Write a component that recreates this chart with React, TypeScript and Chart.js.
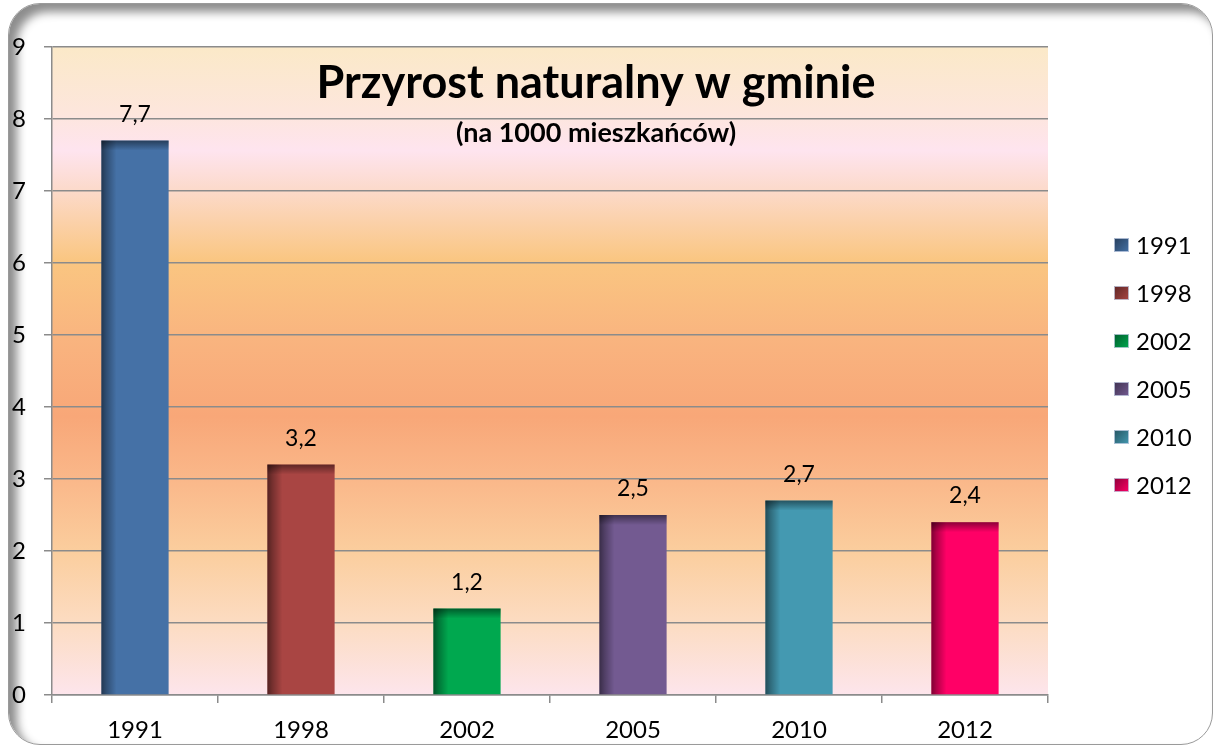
import React, { useEffect, useRef } from 'react';
import { Chart, registerables } from 'chart.js';

Chart.register(...registerables);

const categories = ['1991', '1998', '2002', '2005', '2010', '2012'];
const values = [7.7, 3.2, 1.2, 2.5, 2.7, 2.4];
const yTicks = [0, 1, 2, 3, 4, 5, 6, 7, 8, 9];
const titleText = 'Przyrost naturalny w gminie';
const subtitleText = '(na 1000 mieszkańców)';
const barColors = ['#4571A6', '#A94543', '#00A84F', '#735A91', '#4499B1', '#FF0066'];

const FONT = 'Lato, "Open Sans", sans-serif';
const GRID = '#8B8B8B';

const fmt = (v: number) => String(v).replace('.', ',');

const bgPlugin = {
  id: 'plotBg',
  beforeDraw(chart: any) {
    const { ctx, chartArea: a } = chart;
    const g = ctx.createLinearGradient(0, a.top, 0, a.bottom);
    const stops: [number, string][] = [
      [0, '#FBE9C8'],
      [0.1, '#FDE6DC'],
      [0.16, '#FEE4EF'],
      [0.22, '#FCDACB'],
      [0.33, '#FAC681'],
      [0.45, '#F9B47F'],
      [0.57, '#F8A778'],
      [0.67, '#FAB88A'],
      [0.78, '#FBCE9E'],
      [0.89, '#FCDCC2'],
      [1, '#FDE5EC'],
    ];
    stops.forEach(([o, c]) => g.addColorStop(o, c));
    ctx.save();
    ctx.fillStyle = g;
    ctx.fillRect(a.left, a.top, a.right - a.left, a.bottom - a.top);
    ctx.restore();
  },
};

const shadePlugin = {
  id: 'barShade',
  afterDatasetsDraw(chart: any) {
    const { ctx } = chart;
    ctx.save();
    chart.data.datasets.forEach((ds: any, di: number) => {
      const meta = chart.getDatasetMeta(di);
      meta.data.forEach((el: any, i: number) => {
        if (ds.data[i] == null) return;
        const left = el.x - el.width / 2;
        const top = el.y;
        const h = el.base - el.y;
        const gl = ctx.createLinearGradient(left, 0, left + 15, 0);
        gl.addColorStop(0, 'rgba(0,0,0,0.5)');
        gl.addColorStop(0.35, 'rgba(0,0,0,0.3)');
        gl.addColorStop(1, 'rgba(0,0,0,0)');
        ctx.fillStyle = gl;
        ctx.fillRect(left, top, 15, h);
        const gt = ctx.createLinearGradient(0, top, 0, top + 10);
        gt.addColorStop(0, 'rgba(0,0,0,0.45)');
        gt.addColorStop(1, 'rgba(0,0,0,0)');
        ctx.fillStyle = gt;
        ctx.fillRect(left, top, el.width, Math.min(10, h));
      });
    });
    ctx.restore();
  },
};

const labelPlugin = {
  id: 'valueLabels',
  afterDatasetsDraw(chart: any) {
    const { ctx } = chart;
    ctx.save();
    ctx.font = `23px ${FONT}`;
    ctx.fillStyle = '#000';
    ctx.textAlign = 'center';
    ctx.textBaseline = 'alphabetic';
    chart.data.datasets.forEach((ds: any, di: number) => {
      const meta = chart.getDatasetMeta(di);
      meta.data.forEach((el: any, i: number) => {
        const v = ds.data[i];
        if (v == null) return;
        ctx.fillText(fmt(v), el.x, el.y - 19);
      });
    });
    ctx.restore();
  },
};

const titlePlugin = {
  id: 'innerTitle',
  afterDraw(chart: any) {
    const { ctx } = chart;
    ctx.save();
    ctx.fillStyle = '#000';
    ctx.textAlign = 'center';
    ctx.textBaseline = 'alphabetic';
    ctx.font = `bold 45px ${FONT}`;
    ctx.fillText(titleText, 596, 98);
    ctx.font = `bold 27px ${FONT}`;
    ctx.fillText(subtitleText, 596, 142);
    ctx.restore();
  },
};

const legendPlugin = {
  id: 'sideLegend',
  afterDraw(chart: any) {
    const { ctx } = chart;
    ctx.save();
    chart.data.datasets.forEach((ds: any, i: number) => {
      const cy = 245 + i * 48;
      const bx = 1114;
      const by = cy - 7;
      ctx.fillStyle = ds.backgroundColor;
      ctx.fillRect(bx, by, 15, 14);
      const g = ctx.createLinearGradient(bx, by, bx + 15, by + 14);
      g.addColorStop(0, 'rgba(0,0,0,0.45)');
      g.addColorStop(1, 'rgba(0,0,0,0)');
      ctx.fillStyle = g;
      ctx.fillRect(bx, by, 15, 14);
      ctx.strokeStyle = 'rgba(200,210,230,0.8)';
      ctx.lineWidth = 1;
      ctx.strokeRect(bx + 0.5, by + 0.5, 14, 13);
      ctx.fillStyle = '#000';
      ctx.font = `24px ${FONT}`;
      ctx.textAlign = 'left';
      ctx.textBaseline = 'middle';
      ctx.fillText(ds.label, 1136, cy + 1);
    });
    ctx.restore();
  },
};

export default function App() {
  const ref = useRef<HTMLCanvasElement>(null);

  useEffect(() => {
    if (!ref.current) return;
    const datasets = categories.map((c, i) => ({
      label: c,
      data: categories.map((_, j) => (j === i ? values[i] : null)),
      backgroundColor: barColors[i],
      grouped: false,
      barPercentage: 0.405,
      categoryPercentage: 1,
    }));
    const chart = new Chart(ref.current, {
      type: 'bar',
      data: { labels: categories, datasets },
      options: {
        animation: false,
        responsive: false,
        maintainAspectRatio: false,
        layout: { padding: { left: 0, top: 47, right: 167, bottom: 0 } },
        plugins: {
          legend: { display: false },
          title: { display: false },
          tooltip: { enabled: false },
        },
        scales: {
          x: {
            afterFit: (s: any) => {
              s.height = 51;
            },
            ticks: { color: '#000', font: { family: FONT, size: 24 }, padding: 13 },
            grid: {
              offset: true,
              drawOnChartArea: false,
              drawTicks: true,
              tickLength: 8,
              color: GRID,
              lineWidth: 1.5,
            },
            border: { color: GRID, width: 1.5 },
          },
          y: {
            min: 0,
            max: 9,
            afterBuildTicks: (s: any) => {
              s.ticks = yTicks.map((v) => ({ value: v }));
            },
            afterFit: (s: any) => {
              s.width = 52;
            },
            ticks: { color: '#000', font: { family: FONT, size: 24 }, padding: 18 },
            grid: { color: GRID, lineWidth: 1.5, tickLength: 8, drawTicks: true },
            border: { color: GRID, width: 1.5 },
          },
        },
      },
      plugins: [bgPlugin, shadePlugin, labelPlugin, titlePlugin, legendPlugin],
    });
    return () => chart.destroy();
  }, []);

  return (
    <div
      style={{
        position: 'fixed',
        left: 0,
        top: 0,
        width: 1215,
        height: 746,
        background: '#fff',
        overflow: 'hidden',
      }}
    >
      <div
        style={{
          position: 'absolute',
          left: 8,
          top: 3,
          width: 1205,
          height: 742,
          borderRadius: 32,
          border: '1px solid #9a9a9a',
          boxSizing: 'border-box',
          boxShadow: 'inset 8px 8px 10px rgba(0,0,0,0.45)',
          background: '#fff',
        }}
      />
      <canvas
        ref={ref}
        width={1215}
        height={746}
        style={{ position: 'absolute', left: 0, top: 0, width: 1215, height: 746 }}
      />
    </div>
  );
}
